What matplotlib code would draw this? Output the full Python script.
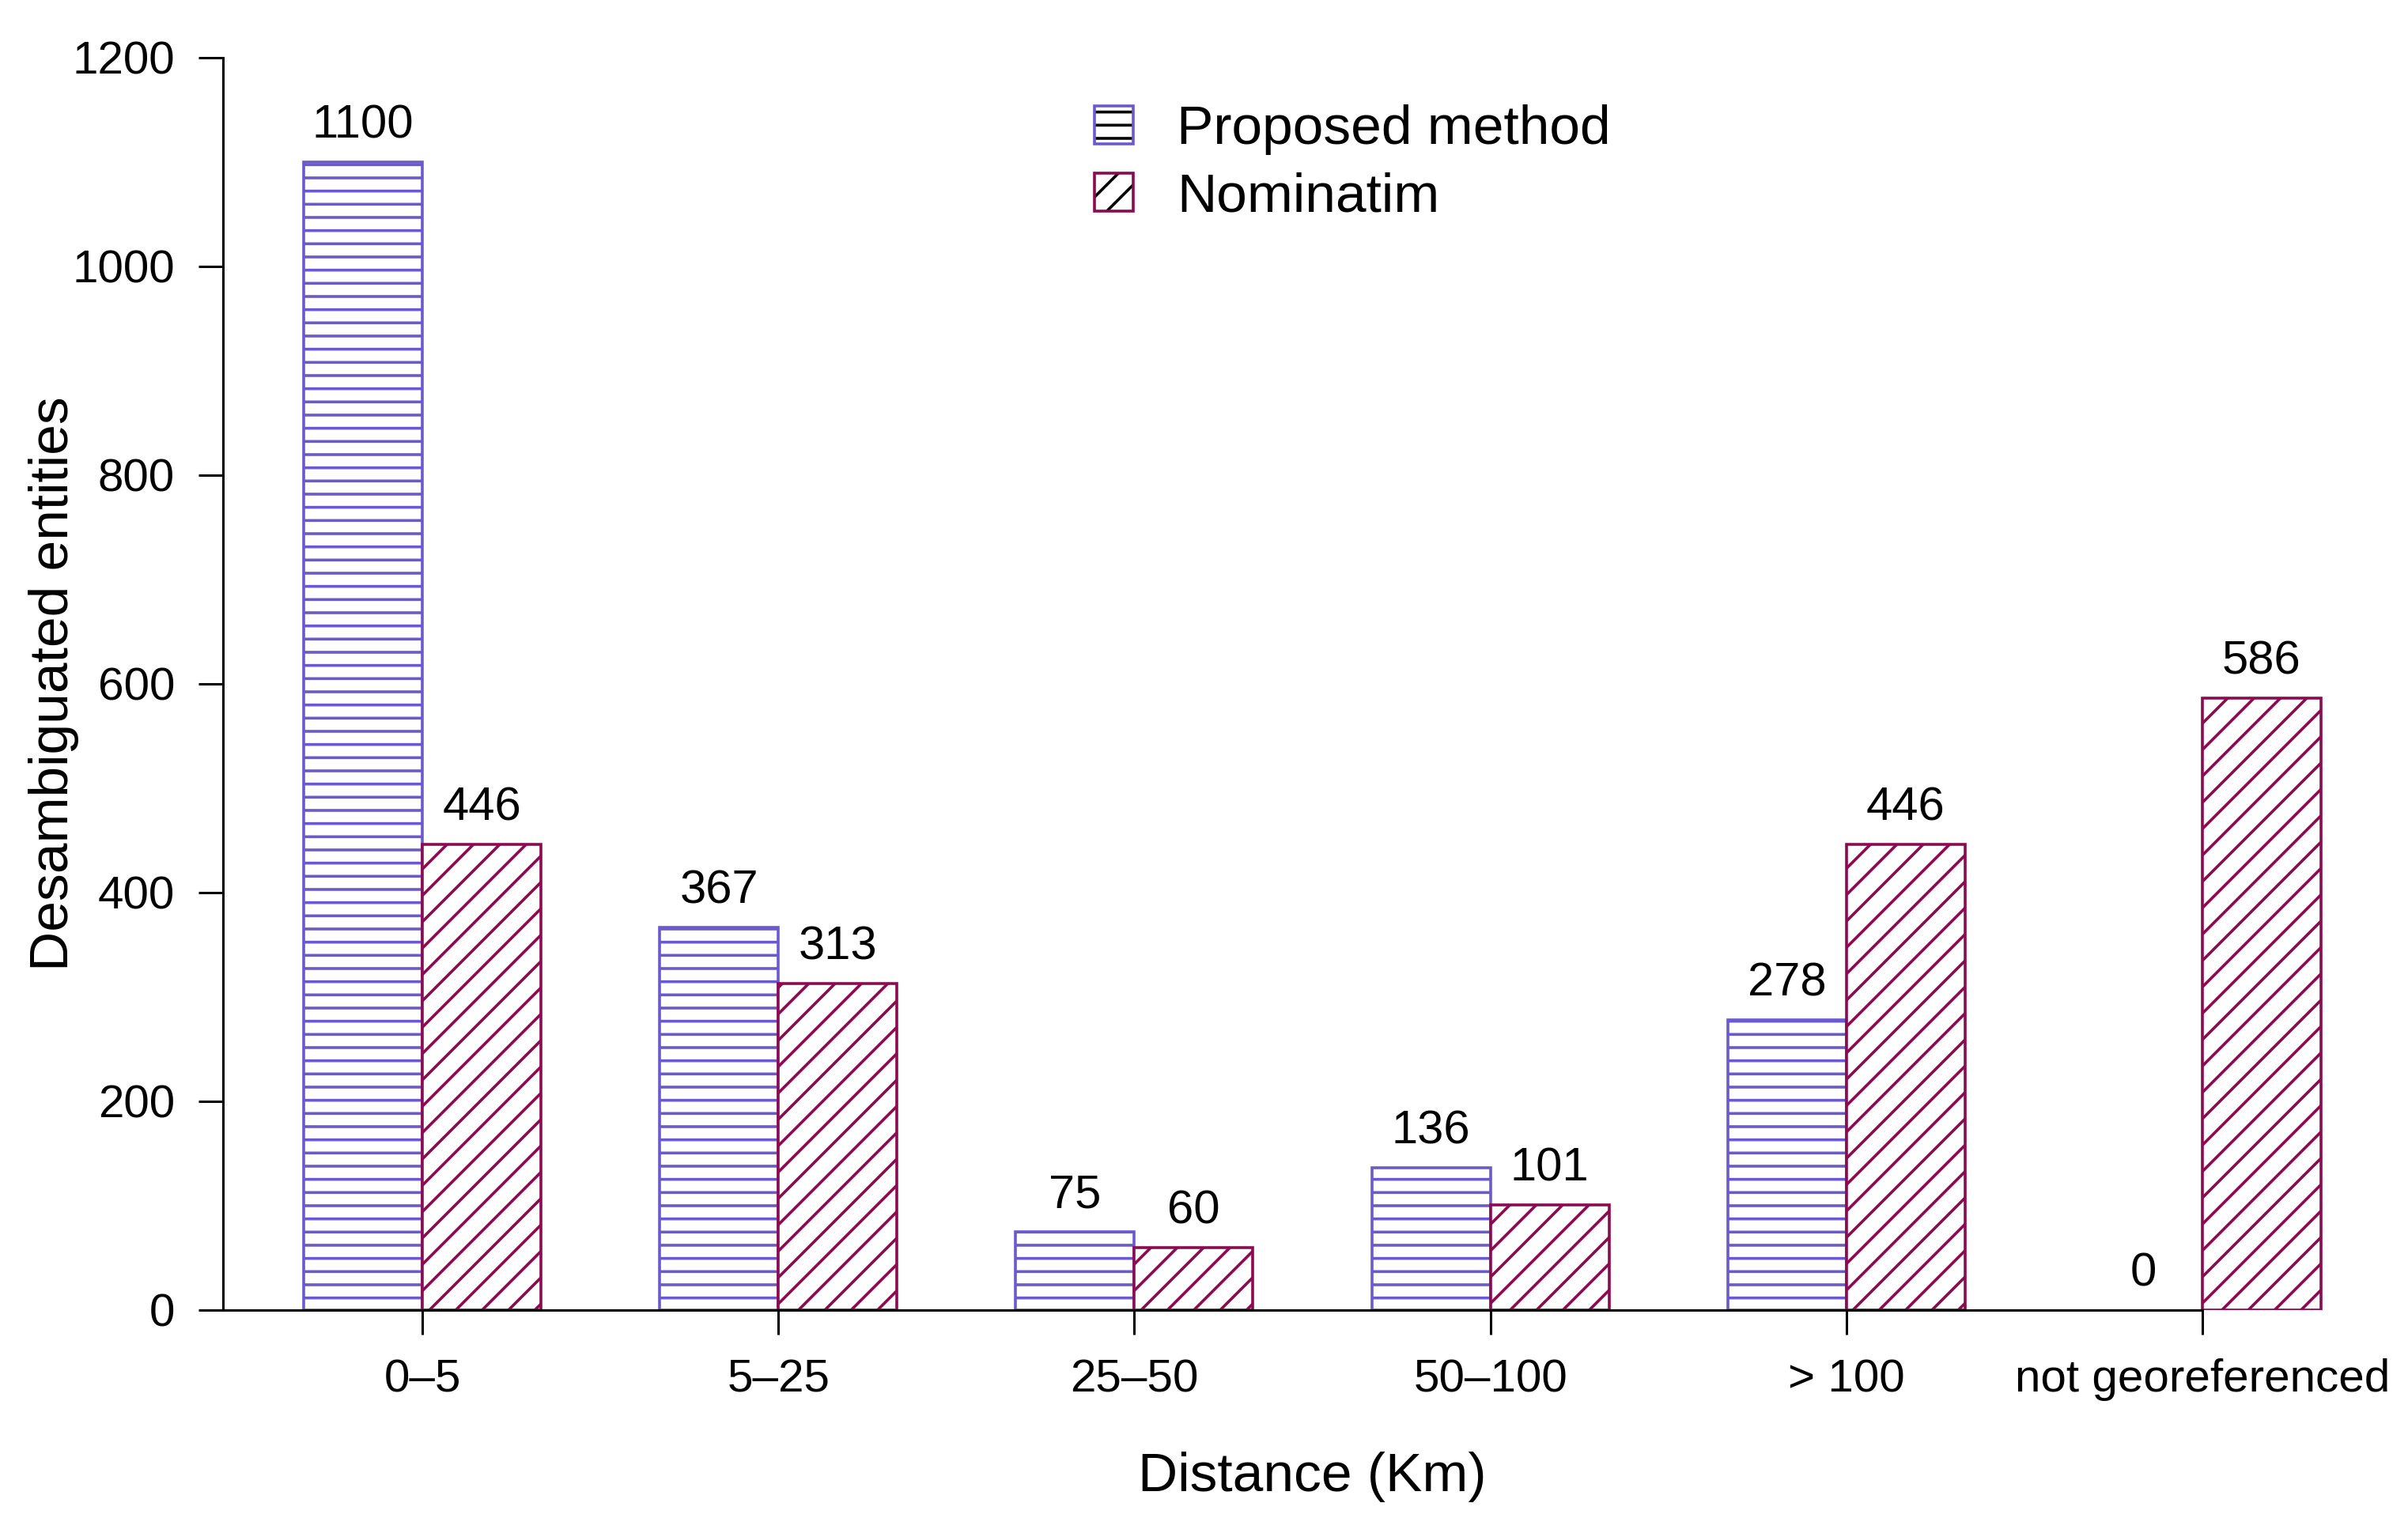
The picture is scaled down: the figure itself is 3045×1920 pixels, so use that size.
import numpy as np
import matplotlib.pyplot as plt
from matplotlib.patches import Patch
from matplotlib.legend_handler import HandlerTuple

plt.rcParams['font.family'] = ['Liberation Sans', 'DejaVu Sans']
plt.rcParams['hatch.linewidth'] = 1.3

categories = ['0\u20135', '5\u201325', '25\u201350', '50\u2013100', '> 100', 'not georeferenced']
proposed = [1100, 367, 75, 136, 278, 0]
nominatim = [446, 313, 60, 101, 446, 586]

blue = '#6A5ACD'
red = '#8B0A50'

fig = plt.figure(figsize=(15.225, 9.6), dpi=200)
ax = fig.add_axes([282 / 3045, 263 / 1920, 2755 / 3045, 1584 / 1920])

# barplot a la R: barras de ancho 1, grupos separados por 1
n = len(categories)
centros = 3 * np.arange(1, n + 1) - 1
x_prop = centros - 0.5
x_nom = centros + 0.5

b1 = ax.bar(x_prop, proposed, width=1, facecolor='white', edgecolor=blue,
            hatch='--', linewidth=1.3)
b2 = ax.bar(x_nom, nominatim, width=1, facecolor='white', edgecolor=red,
            hatch='//', linewidth=1.3)
# una barra de altura 0 no se ve en el original
for p in list(b1) + list(b2):
    if p.get_height() == 0:
        p.set_visible(False)

for xs, vals in ((x_prop, proposed), (x_nom, nominatim)):
    for x, v in zip(xs, vals):
        ax.annotate(str(v), (x, v), xytext=(0, 11), textcoords='offset points',
                    ha='center', va='baseline', fontsize=21.5, clip_on=False)

ax.set_xlim(0.32, 18.68)
ax.set_ylim(0, 1200)
ax.set_yticks(np.arange(0, 1201, 200))
ax.set_xticks(centros)
ax.set_xticklabels(categories)

for s in ('top', 'right'):
    ax.spines[s].set_visible(False)
ax.spines['left'].set_linewidth(1.1)
ax.spines['bottom'].set_linewidth(1.1)
ax.spines['bottom'].set_bounds(0.32, centros[-1])
ax.tick_params(axis='both', direction='out', length=11, width=1.1,
               labelsize=21, pad=11)

ax.set_xlabel('Distance (Km)', fontsize=25)
ax.xaxis.set_label_coords(0.5, -0.133)
ax.xaxis.label.set_verticalalignment('center')
ax.set_ylabel('Desambiguated entities', fontsize=25)
ax.yaxis.set_label_coords(-0.0777, 0.5)
ax.yaxis.label.set_verticalalignment('center')

# leyenda: rayado negro con borde de color, como en R
h1 = (Patch(facecolor='white', edgecolor='black', hatch='--', linewidth=0),
      Patch(facecolor='none', edgecolor=blue, linewidth=1.3))
h2 = (Patch(facecolor='white', edgecolor='black', hatch='//', linewidth=0),
      Patch(facecolor='none', edgecolor=red, linewidth=1.3))
ax.legend([h1, h2], ['Proposed method', 'Nominatim'],
          handler_map={tuple: HandlerTuple(ndivide=1, pad=0)},
          loc='upper left', bbox_to_anchor=(0.39, 0.98), frameon=False,
          fontsize=25, handlelength=0.7, handleheight=0.7,
          handletextpad=0.8, labelspacing=0.3, borderaxespad=0)

fig.savefig('out.png', dpi=200)
